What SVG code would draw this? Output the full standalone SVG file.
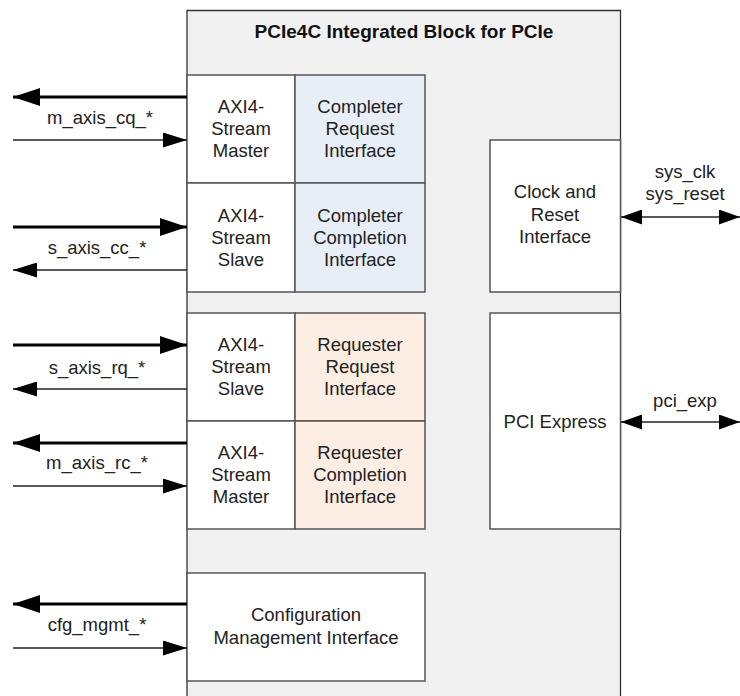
<svg xmlns="http://www.w3.org/2000/svg" width="740" height="696" viewBox="0 0 740 696">
<defs>
<style>
text{font-family:"Liberation Sans",Arial,sans-serif;font-size:18.5px;fill:#222;text-anchor:middle}
.title{font-weight:bold;font-size:19px;fill:#111}
.box{fill:#fff;stroke:#555;stroke-width:1.5}
.blue{fill:#e8eef8;stroke:#555;stroke-width:1.5}
.peach{fill:#fdeee4;stroke:#555;stroke-width:1.5}
.thick{stroke:#000;stroke-width:3;fill:none}
.thin{stroke:#222;stroke-width:1.3;fill:none}
</style>
<marker id="ah" viewBox="0 0 27 18" refX="27" refY="9" markerUnits="userSpaceOnUse" markerWidth="27" markerHeight="18" orient="auto-start-reverse"><path d="M0,0 L27,9 L0,18 Z" fill="#000"/></marker>
<marker id="ahs" viewBox="0 0 24 15" refX="24" refY="7.5" markerUnits="userSpaceOnUse" markerWidth="24" markerHeight="15" orient="auto-start-reverse"><path d="M0,0 L24,7.5 L0,15 Z" fill="#000"/></marker>
<marker id="ahd" viewBox="0 0 21 15" refX="21" refY="7.5" markerUnits="userSpaceOnUse" markerWidth="21" markerHeight="15" orient="auto-start-reverse"><path d="M0,0 L21,7.5 L0,15 Z" fill="#000"/></marker>
</defs>
<rect width="740" height="696" fill="#fff"/>
<g id="outer">
<path d="M187,700 V10.5 H620.5 V700" fill="#f1f1f1" stroke="#333" stroke-width="1.3"/>
<text class="title" x="404" y="38">PCIe4C Integrated Block for PCIe</text>
</g>
<g id="axi_cq">
<rect class="box" x="187" y="75" width="108" height="108"/>
<text x="241" y="113">AXI4-</text><text x="241" y="135">Stream</text><text x="241" y="157">Master</text>
</g>
<g id="completer_request">
<rect class="blue" x="295" y="75" width="130" height="108"/>
<text x="360" y="113">Completer</text><text x="360" y="135">Request</text><text x="360" y="157">Interface</text>
</g>
<g id="axi_cc">
<rect class="box" x="187" y="183" width="108" height="109"/>
<text x="241" y="222">AXI4-</text><text x="241" y="244">Stream</text><text x="241" y="266">Slave</text>
</g>
<g id="completer_completion">
<rect class="blue" x="295" y="183" width="130" height="109"/>
<text x="360" y="222">Completer</text><text x="360" y="244">Completion</text><text x="360" y="266">Interface</text>
</g>
<g id="axi_rq">
<rect class="box" x="187" y="313" width="108" height="108"/>
<text x="241" y="351">AXI4-</text><text x="241" y="373">Stream</text><text x="241" y="395">Slave</text>
</g>
<g id="requester_request">
<rect class="peach" x="295" y="313" width="130" height="108"/>
<text x="360" y="351">Requester</text><text x="360" y="373">Request</text><text x="360" y="395">Interface</text>
</g>
<g id="axi_rc">
<rect class="box" x="187" y="421" width="108" height="108"/>
<text x="241" y="459">AXI4-</text><text x="241" y="481">Stream</text><text x="241" y="503">Master</text>
</g>
<g id="requester_completion">
<rect class="peach" x="295" y="421" width="130" height="108"/>
<text x="360" y="459">Requester</text><text x="360" y="481">Completion</text><text x="360" y="503">Interface</text>
</g>
<g id="config">
<rect class="box" x="187" y="573" width="238" height="108"/>
<text x="306" y="621">Configuration</text><text x="306" y="644">Management Interface</text>
</g>
<g id="clock_reset">
<rect class="box" x="490" y="140" width="130.5" height="152"/>
<text x="555" y="198">Clock and</text><text x="555" y="221">Reset</text><text x="555" y="243">Interface</text>
</g>
<g id="pci_express">
<rect class="box" x="490" y="313" width="130.5" height="216"/>
<text x="555" y="428">PCI Express</text>
</g>
<g id="connectors">
<line class="thick" x1="187" y1="97" x2="13" y2="97" marker-end="url(#ah)"/>
<line class="thin" x1="13" y1="140" x2="187" y2="140" marker-end="url(#ahs)"/>
<text x="100" y="124">m_axis_cq_*</text>
<line class="thick" x1="13" y1="227" x2="187" y2="227" marker-end="url(#ah)"/>
<line class="thin" x1="187" y1="270" x2="13" y2="270" marker-end="url(#ahs)"/>
<text x="97" y="254">s_axis_cc_*</text>
<line class="thick" x1="13" y1="345" x2="187" y2="345" marker-end="url(#ah)"/>
<line class="thin" x1="187" y1="389" x2="13" y2="389" marker-end="url(#ahs)"/>
<text x="97" y="374">s_axis_rq_*</text>
<line class="thick" x1="187" y1="443" x2="13" y2="443" marker-end="url(#ah)"/>
<line class="thin" x1="13" y1="486" x2="187" y2="486" marker-end="url(#ahs)"/>
<text x="97" y="469">m_axis_rc_*</text>
<line class="thick" x1="187" y1="604" x2="13" y2="604" marker-end="url(#ah)"/>
<line class="thin" x1="13" y1="648" x2="187" y2="648" marker-end="url(#ahs)"/>
<text x="97" y="631">cfg_mgmt_*</text>
<line class="thin" x1="621" y1="217" x2="740" y2="217" marker-start="url(#ahd)" marker-end="url(#ahd)"/>
<text x="685" y="178">sys_clk</text><text x="685" y="200">sys_reset</text>
<line class="thin" x1="621" y1="422" x2="740" y2="422" marker-start="url(#ahd)" marker-end="url(#ahd)"/>
<text x="685" y="407">pci_exp</text>
</g>
</svg>
